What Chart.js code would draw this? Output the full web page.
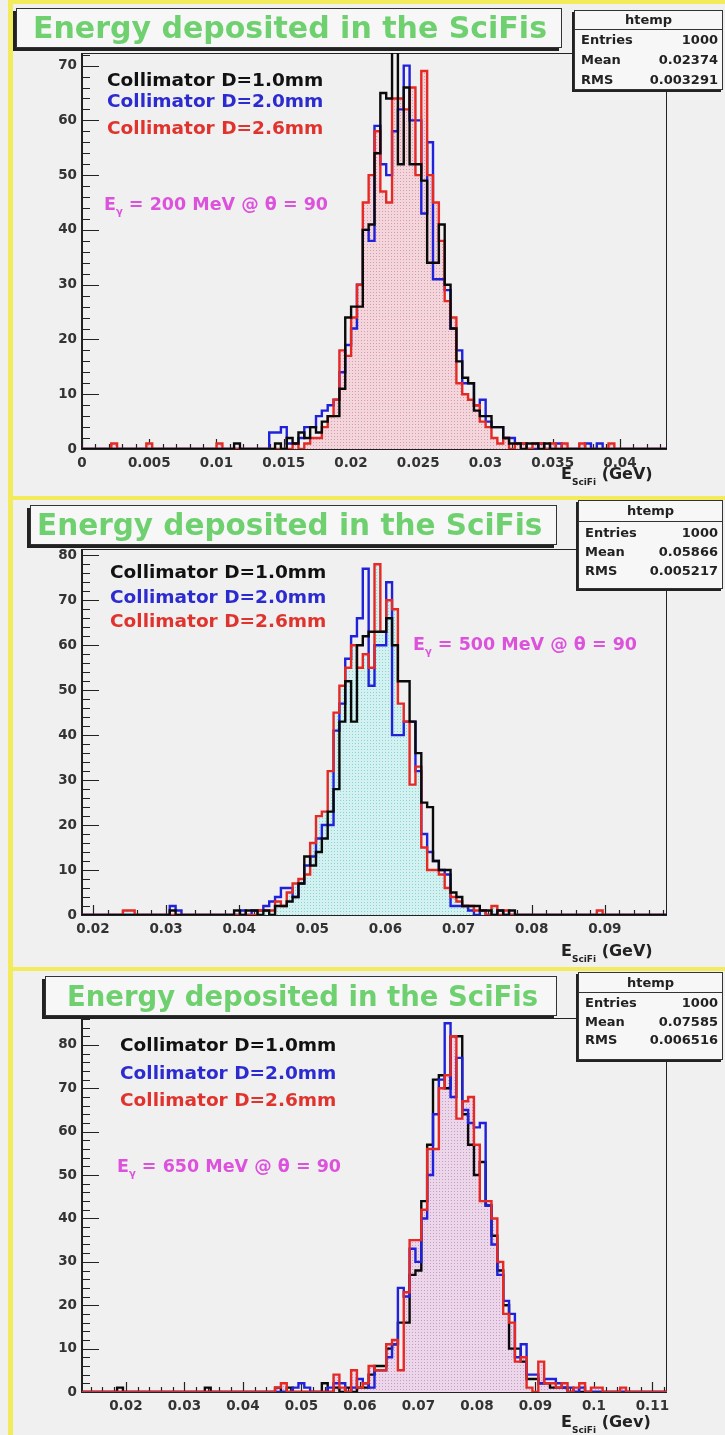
<!DOCTYPE html>
<html>
<head>
<meta charset="utf-8">
<script src="https://cdn.jsdelivr.net/npm/chart.js@4.4.1/dist/chart.umd.min.js"></script>
<style>
  body { margin: 0; background: #fff; }
  #page { position: relative; width: 725px; height: 1435px; background: #f0f0f0; overflow: hidden;
          font-family: 'DejaVu Sans', sans-serif; font-weight: bold; }
  .yl { position: absolute; background: #f2ec5c; z-index: 3; }
  canvas { position: absolute; left: 0; z-index: 1; }
  .title { position: absolute; z-index: 2; background: #f7f7f7; border: 1px solid #333; box-shadow: -3px 3px 0 #222;
           color: #6fd06f; white-space: nowrap; box-sizing: border-box; }
  .stats { position: absolute; z-index: 2; background: #f7f7f7; border: 1px solid #333; box-shadow: -2px 2px 0 #222;
           font-size: 13px; color: #222; box-sizing: border-box; }
  .stats .sh { text-align: center; border-bottom: 1px solid #333; }
  .stats .sr { display: flex; justify-content: space-between; padding: 0 4px 0 6px; }
  .txt { position: absolute; z-index: 2; white-space: nowrap; line-height: 1; }
  .leg { font-size: 18.5px; }
  .eg { font-size: 17.5px; color: #dc52dc; }
  .eg sub { font-size: 10px; vertical-align: -5px; }
  .xt { font-size: 16px; color: #222; }
  .xt sub { font-size: 9px; vertical-align: -6px; }
</style>
</head>
<body>
<div id="page">
  <div class="yl" style="left:8px;top:0;width:5px;height:1435px"></div>
  <div class="yl" style="left:8px;top:0;width:717px;height:4px"></div>
  <div class="yl" style="left:8px;top:496px;width:717px;height:4px"></div>
  <div class="yl" style="left:8px;top:967px;width:717px;height:4px"></div>

  <canvas id="c1" width="725" height="446" style="top:33px"></canvas>
  <canvas id="c2" width="725" height="416" style="top:529px"></canvas>
  <canvas id="c3" width="725" height="424" style="top:998px"></canvas>

  <!-- panel 1 -->
  <div class="title" style="left:16px;top:8px;width:546px;height:40px;font-size:30px;line-height:38px;padding-left:16px">Energy deposited in the SciFis</div>
  <div class="stats" style="left:574px;top:10px;width:149px;height:80px">
    <div class="sh" style="height:18px;line-height:18px">htemp</div>
    <div class="sr" style="line-height:20px"><span>Entries</span><span>1000</span></div>
    <div class="sr" style="line-height:20px"><span>Mean</span><span>0.02374</span></div>
    <div class="sr" style="line-height:20px"><span>RMS</span><span>0.003291</span></div>
  </div>
  <div class="txt leg" style="left:107px;top:71px;color:#111">Collimator D=1.0mm</div>
  <div class="txt leg" style="left:107px;top:92px;color:#2b2bd0">Collimator D=2.0mm</div>
  <div class="txt leg" style="left:107px;top:119px;color:#e0332e">Collimator D=2.6mm</div>
  <div class="txt eg" style="left:104px;top:196px">E<sub>γ</sub> = 200 MeV @ θ = 90</div>
  <div class="txt xt" style="left:561px;top:466px">E<sub>SciFi</sub> (GeV)</div>

  <!-- panel 2 -->
  <div class="title" style="left:30px;top:505px;width:527px;height:40px;font-size:29.5px;line-height:38px;padding-left:6px">Energy deposited in the SciFis</div>
  <div class="stats" style="left:578px;top:500px;width:145px;height:89px">
    <div class="sh" style="height:20px;line-height:20px">htemp</div>
    <div class="sr" style="line-height:19px;margin-top:1px"><span>Entries</span><span>1000</span></div>
    <div class="sr" style="line-height:19px"><span>Mean</span><span>0.05866</span></div>
    <div class="sr" style="line-height:19px"><span>RMS</span><span>0.005217</span></div>
  </div>
  <div class="txt leg" style="left:110px;top:563px;color:#111">Collimator D=1.0mm</div>
  <div class="txt leg" style="left:110px;top:588px;color:#2b2bd0">Collimator D=2.0mm</div>
  <div class="txt leg" style="left:110px;top:612px;color:#e0332e">Collimator D=2.6mm</div>
  <div class="txt eg" style="left:413px;top:636px">E<sub>γ</sub> = 500 MeV @ θ = 90</div>
  <div class="txt xt" style="left:561px;top:943px">E<sub>SciFi</sub> (GeV)</div>

  <!-- panel 3 -->
  <div class="title" style="left:45px;top:976px;width:512px;height:40px;font-size:27.5px;line-height:38px;padding-left:21px">Energy deposited in the SciFis</div>
  <div class="stats" style="left:578px;top:972px;width:145px;height:88px">
    <div class="sh" style="height:19px;line-height:19px">htemp</div>
    <div class="sr" style="line-height:18.5px;margin-top:1px"><span>Entries</span><span>1000</span></div>
    <div class="sr" style="line-height:18.5px"><span>Mean</span><span>0.07585</span></div>
    <div class="sr" style="line-height:18.5px"><span>RMS</span><span>0.006516</span></div>
  </div>
  <div class="txt leg" style="left:120px;top:1036px;color:#111">Collimator D=1.0mm</div>
  <div class="txt leg" style="left:120px;top:1064px;color:#2b2bd0">Collimator D=2.0mm</div>
  <div class="txt leg" style="left:120px;top:1091px;color:#e0332e">Collimator D=2.6mm</div>
  <div class="txt eg" style="left:117px;top:1158px">E<sub>γ</sub> = 650 MeV @ θ = 90</div>
  <div class="txt xt" style="left:561px;top:1414px">E<sub>SciFi</sub> (Gev)</div>
</div>

<script>
// every histogram has 100 bins over the drawn axis range
const NBINS = 100;

// ---- panel 1: E_gamma = 200 MeV ----
const p1XRange = [0, 0.0435];
const p1YMax = 72.3;
const p1XTicks = [0, 0.005, 0.01, 0.015, 0.02, 0.025, 0.03, 0.035, 0.04];
const p1YTicks = [0, 10, 20, 30, 40, 50, 60, 70];
const p1BlackFrom = 26;
const p1Black = [1,0,0,0,0,0,0,1,0,2,1,3,2,4,3,5,6,6,11,24,26,26,40,41,54,65,64,75,52,66,
  52,52,49,34,34,41,30,22,16,13,12,7,6,6,4,4,2,1,1,0,1,1,0,1];
const p1BlueFrom = 32;
const p1Blue = [3,3,4,1,1,2,4,4,6,7,8,9,14,19,22,30,40,38,59,52,50,58,62,70,60,60,43,56,31,31,
  29,22,18,12,12,8,9,5,4,4,2,2,1,1,0,0,1,0,0,1,0,0,0,0,1,0,1];
const p1RedFrom = 5;
const p1Red = [1,0,0,0,0,0,1, 0,0,0,0,0,0,0,0,0,0,0, 1, 0,0,0,0,0,0,0,0,0,0,0,0,
  1,0,1,2,2,4,6,9,18,17,24,30,45,50,58,47,45,64,64,62,66,50,69,50,45,38,27,24,12,10,
  9,8,5,4,2,1,2,0,1,1,0,1,1,0,1,0,1,0,0,1,0,0,0,0,1];

// ---- panel 2: E_gamma = 500 MeV ----
const p2XRange = [0.0185, 0.0985];
const p2YMax = 81.4;
const p2XTicks = [0.02, 0.03, 0.04, 0.05, 0.06, 0.07, 0.08, 0.09];
const p2YTicks = [0, 10, 20, 30, 40, 50, 60, 70, 80];
const p2BlackFrom = 15;
const p2Black = [1, 0,0,0,0,0,0,0,0,0,0, 1,0,1,1,0,1,0,2,2,3, 4,7,13,11,14,17,23,28,43,52,
  43,60,62,63,63,63,66,60,52,52, 43,36,25,24,12,10,10,5,4,2, 2,2,1,1,0,1,0,1];
const p2BlueFrom = 15;
const p2Blue = [2,1,0, 0,0,0,0,0,0,0,0, 0,1,0,1,1,2,3,4,6,6, 4,7,11,13,17,20,20,41,47,57,
  62,66,77,51,60,60,74,40,40,43, 43,32,18,14,12,10,9,2,2,2, 1,0,1,0,0,1];
const p2RedFrom = 7;
const p2Red = [1,1, 0,0,0,0,0,0,0,0,0,0,0,0,0,0,0,0,0,0,0,0,0,
  1,1,1,3,2,5,7,8,9,16, 22,23,32,45,51,55,60,55,58,55, 78,63,70,68,47,43,29,33,15,10,
  10,9,6,4,3,2,2,1,1,0, 2,0,1, 0,0,0,0,0,0,0,0,0,0,0,0,0,0,0, 1];

// ---- panel 3: E_gamma = 650 MeV ----
const p3XRange = [0.0125, 0.1125];
const p3YMax = 86.2;
const p3XTicks = [0.02, 0.03, 0.04, 0.05, 0.06, 0.07, 0.08, 0.09, 0.1, 0.11];
const p3YTicks = [0, 10, 20, 30, 40, 50, 60, 70, 80];
const p3BlackFrom = 6;
const p3Black = [1, 0,0,0,0,0,0,0,0,0,0,0,0,0,0, 1, 0,0,0,0,0,0,0,0,0,0,0, 1,0,1, 0,0,0,0,0,
  2,0,1,0,1,0,1,1,4,6, 6,10,11,16,16,27,28,44,57,72, 73,70,82,82,64,57,50,53,43,36,
  28,20,10,10,7,3,3,2,2,1, 1,1];
const p3BlueFrom = 36;
const p3Blue = [1,2,1,0,0,0,1,2,2,0, 1,3,2,1,5,5,8,11,24,22, 33,30,40,50,64,72,85,68,77,65,
  62,61,62,43,34,27,21,18,8,11, 4,4,2,3,3,2,1,1,0,1];
const p3RedFrom = 33;
const p3Red = [1,2, 0,0,0,0,0,0,0,0, 4,1,0,5,1,2,6,5,5,11, 12,5,23,35,35,42,56,56,70,73,
  82,63,67,68,57,44,44,40,30,18, 16,7,8,1,0,7,2,2,1,2, 0,1,2,0,1,1,0,0,0,1];

const BLACK = '#0a0a0a', BLUE = '#1f22d8', RED = '#e52a26';

function fullCounts(first, counts) {
  const out = new Array(NBINS).fill(0);
  counts.forEach((c, i) => { out[first + i] = c; });
  return out;
}

// bin left edges -> stepped outline, closed down to zero at both ends (like ROOT HIST)
function histPoints(range, counts) {
  const w = (range[1] - range[0]) / NBINS;
  const pts = [{ x: range[0], y: 0 }];
  counts.forEach((c, i) => pts.push({ x: range[0] + i * w, y: c }));
  pts.push({ x: range[1], y: 0 });
  return pts;
}

function dots(bg, dot) {
  const c = document.createElement('canvas');
  c.width = 3; c.height = 3;
  const g = c.getContext('2d');
  g.fillStyle = bg; g.fillRect(0, 0, 3, 3);
  g.fillStyle = dot; g.fillRect(1, 1, 1, 1);
  return g.createPattern(c, 'repeat');
}

function fmt(v) { return String(Number(v.toFixed(4))); }

// ROOT style frame: ticks drawn inside the frame
const rootFrame = {
  id: 'rootFrame',
  beforeDatasetsDraw(chart, args, o) {
    const { ctx, chartArea: a, scales: { x, y } } = chart;
    ctx.save();
    ctx.strokeStyle = '#222';
    ctx.lineWidth = 1;
    ctx.strokeRect(a.left + 0.5, a.top + 0.5, a.width - 1, a.height - 1);
    ctx.lineWidth = 2;
    ctx.beginPath();
    ctx.moveTo(a.left, a.top);
    ctx.lineTo(a.left, a.bottom);
    ctx.lineTo(a.right, a.bottom);
    ctx.stroke();
    ctx.lineWidth = 1.2;
    ctx.beginPath();
    for (let k = 0; k * o.yMinor <= y.max + 1e-9; k++) {
      const v = k * o.yMinor;
      const py = Math.round(y.getPixelForValue(v)) + 0.5;
      const major = Math.abs(v / o.yMajor - Math.round(v / o.yMajor)) < 1e-6;
      ctx.moveTo(a.left, py);
      ctx.lineTo(a.left + (major ? 17 : 8), py);
    }
    const k0 = Math.ceil(x.min / o.xMinor - 1e-6);
    for (let k = k0; k * o.xMinor <= x.max + 1e-9; k++) {
      const v = k * o.xMinor;
      const px = Math.round(x.getPixelForValue(v)) + 0.5;
      const major = Math.abs(v / o.xMajor - Math.round(v / o.xMajor)) < 1e-6;
      ctx.moveTo(px, a.bottom);
      ctx.lineTo(px, a.bottom - (major ? 10 : 5));
    }
    ctx.stroke();
    ctx.restore();
  }
};

const tickFont = { family: 'DejaVu Sans', weight: 'bold', size: 13.5 };

function makePanel(id, p) {
  const fillSet = {
    data: histPoints(p.range, p.fillCounts), stepped: 'before', borderWidth: 0,
    backgroundColor: p.fill, fill: 'origin', pointRadius: 0, order: 10
  };
  const lineSets = p.lines.map(l => ({
    data: histPoints(p.range, l.counts), stepped: 'before', borderColor: l.color,
    borderWidth: 2.4, fill: false, pointRadius: 0, order: l.order
  }));
  new Chart(document.getElementById(id), {
    type: 'line',
    data: { datasets: [fillSet].concat(lineSets) },
    plugins: [rootFrame],
    options: {
      responsive: false,
      animation: false,
      events: [],
      parsing: false,
      layout: { padding: { left: 0, right: 58, top: 20, bottom: 0 } },
      plugins: {
        legend: { display: false },
        tooltip: { enabled: false },
        rootFrame: { xMinor: p.xMinor, xMajor: p.xMajor, yMinor: 2, yMajor: 10 }
      },
      scales: {
        x: {
          type: 'linear', min: p.range[0], max: p.range[1],
          grid: { display: false, drawTicks: false }, border: { display: false },
          ticks: { font: tickFont, color: '#333', padding: 6, maxRotation: 0, autoSkip: false, callback: v => fmt(v) },
          afterBuildTicks: s => { s.ticks = p.xTicks.map(v => ({ value: v })); },
          afterFit: s => { s.height = 30; }
        },
        y: {
          type: 'linear', min: 0, max: p.yMax,
          grid: { display: false, drawTicks: false }, border: { display: false },
          ticks: { font: tickFont, color: '#333', padding: 5, autoSkip: false, callback: v => fmt(v) },
          afterBuildTicks: s => { s.ticks = p.yTicks.map(v => ({ value: v })); },
          afterFit: s => { s.width = 82; }
        }
      }
    }
  });
}

const p1R = fullCounts(p1RedFrom, p1Red), p1B = fullCounts(p1BlueFrom, p1Blue), p1K = fullCounts(p1BlackFrom, p1Black);
makePanel('c1', {
  range: p1XRange, yMax: p1YMax, xTicks: p1XTicks, yTicks: p1YTicks, xMinor: 0.001, xMajor: 0.005,
  fill: dots('#f3d6dc', '#d99aa9'), fillCounts: p1R,
  lines: [{ counts: p1K, color: BLACK, order: 1 }, { counts: p1R, color: RED, order: 2 }, { counts: p1B, color: BLUE, order: 3 }]
});

const p2R = fullCounts(p2RedFrom, p2Red), p2B = fullCounts(p2BlueFrom, p2Blue), p2K = fullCounts(p2BlackFrom, p2Black);
makePanel('c2', {
  range: p2XRange, yMax: p2YMax, xTicks: p2XTicks, yTicks: p2YTicks, xMinor: 0.002, xMajor: 0.01,
  fill: dots('#d4f1f1', '#8fd3d3'), fillCounts: p2R,
  lines: [{ counts: p2K, color: BLACK, order: 1 }, { counts: p2R, color: RED, order: 2 }, { counts: p2B, color: BLUE, order: 3 }]
});

const p3R = fullCounts(p3RedFrom, p3Red), p3B = fullCounts(p3BlueFrom, p3Blue), p3K = fullCounts(p3BlackFrom, p3Black);
makePanel('c3', {
  range: p3XRange, yMax: p3YMax, xTicks: p3XTicks, yTicks: p3YTicks, xMinor: 0.002, xMajor: 0.01,
  fill: dots('#ecd6ea', '#c99cc4'), fillCounts: p3R,
  lines: [{ counts: p3R, color: RED, order: 1 }, { counts: p3B, color: BLUE, order: 2 }, { counts: p3K, color: BLACK, order: 3 }]
});
</script>
</body>
</html>
